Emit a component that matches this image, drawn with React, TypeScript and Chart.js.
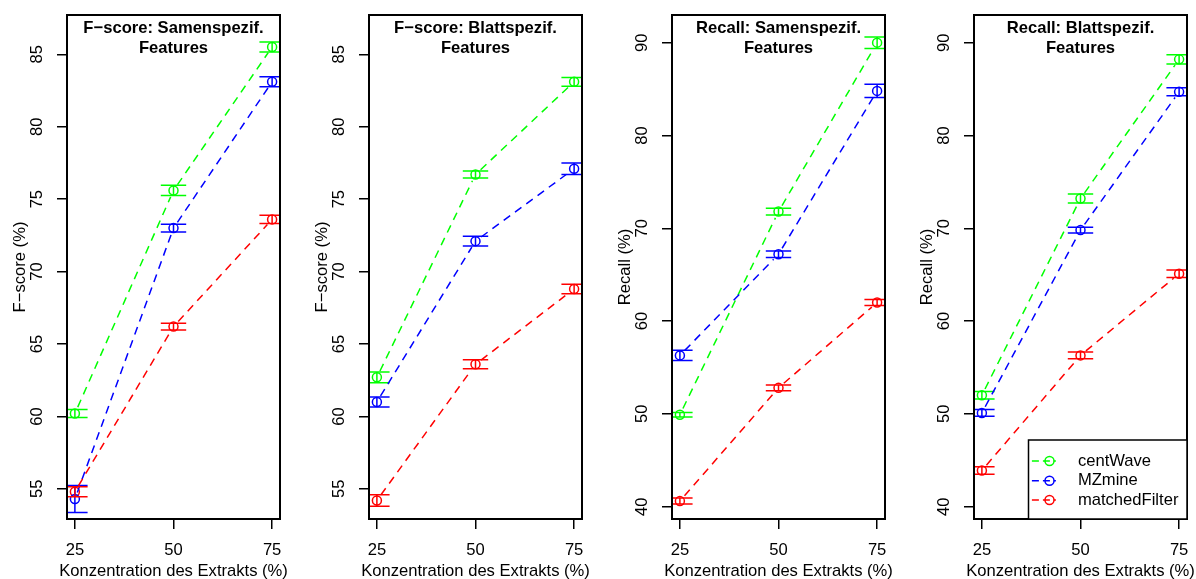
import React, { useEffect, useRef } from 'react';
import { Chart, registerables } from 'chart.js';

Chart.register(...registerables);

const FONT = "'Liberation Sans', Arial, Helvetica, sans-serif";
const FS = 16.6;

// ---- data ----
const concentrations = [25, 50, 75];
const xTicks = [25, 50, 75];
const fscoreTicks = [55, 60, 65, 70, 75, 80, 85];
const recallTicks = [40, 50, 60, 70, 80, 90];
const seriesLabels = ['centWave', 'MZmine', 'matchedFilter'];
const seriesColors = ['#00FF00', '#0000FF', '#FF0000'];

// F-score: Samenspezif. Features
const fsSamenCentWave = [60.2, 75.6, 85.5];
const fsSamenMZmine = [54.3, 73.0, 83.1];
const fsSamenMatched = [54.8, 66.2, 73.6];
const fsSamenCentWaveErr = [0.27, 0.35, 0.35];
const fsSamenMZmineErr = [0.93, 0.27, 0.35];
const fsSamenMatchedErr = [0.35, 0.23, 0.29];

// F-score: Blattspezif. Features
const fsBlattCentWave = [62.7, 76.7, 83.1];
const fsBlattMZmine = [61.0, 72.1, 77.1];
const fsBlattMatched = [54.2, 63.6, 68.8];
const fsBlattCentWaveErr = [0.37, 0.25, 0.3];
const fsBlattMZmineErr = [0.35, 0.33, 0.4];
const fsBlattMatchedErr = [0.4, 0.31, 0.33];

// Recall: Samenspezif. Features
const rcSamenCentWave = [49.9, 71.8, 90.0];
const rcSamenMZmine = [56.3, 67.2, 84.8];
const rcSamenMatched = [40.6, 52.8, 62.0];
const rcSamenCentWaveErr = [0.25, 0.36, 0.62];
const rcSamenMZmineErr = [0.56, 0.34, 0.72];
const rcSamenMatchedErr = [0.32, 0.32, 0.32];

// Recall: Blattspezif. Features
const rcBlattCentWave = [52.0, 73.2, 88.2];
const rcBlattMZmine = [50.1, 69.8, 84.7];
const rcBlattMatched = [43.9, 56.3, 65.1];
const rcBlattCentWaveErr = [0.4, 0.48, 0.5];
const rcBlattMZmineErr = [0.37, 0.32, 0.43];
const rcBlattMatchedErr = [0.4, 0.36, 0.41];

const xLabel = 'Konzentration des Extrakts (%)';

type PanelCfg = {
  title: string[];
  yTitle: string;
  yMin: number;
  yMax: number;
  yTicks: number[];
  means: number[][];
  errs: number[][];
  legend: boolean;
  left: number;
};

const panels: PanelCfg[] = [
  {
    title: ['F\u2212score: Samenspezif.', 'Features'],
    yTitle: 'F\u2212score (%)',
    yMin: 52.92, yMax: 87.71, yTicks: fscoreTicks,
    means: [fsSamenCentWave, fsSamenMZmine, fsSamenMatched],
    errs: [fsSamenCentWaveErr, fsSamenMZmineErr, fsSamenMatchedErr],
    legend: false, left: 0,
  },
  {
    title: ['F\u2212score: Blattspezif.', 'Features'],
    yTitle: 'F\u2212score (%)',
    yMin: 52.92, yMax: 87.71, yTicks: fscoreTicks,
    means: [fsBlattCentWave, fsBlattMZmine, fsBlattMatched],
    errs: [fsBlattCentWaveErr, fsBlattMZmineErr, fsBlattMatchedErr],
    legend: false, left: 302,
  },
  {
    title: ['Recall: Samenspezif.', 'Features'],
    yTitle: 'Recall (%)',
    yMin: 38.67, yMax: 92.98, yTicks: recallTicks,
    means: [rcSamenCentWave, rcSamenMZmine, rcSamenMatched],
    errs: [rcSamenCentWaveErr, rcSamenMZmineErr, rcSamenMatchedErr],
    legend: false, left: 605,
  },
  {
    title: ['Recall: Blattspezif.', 'Features'],
    yTitle: 'Recall (%)',
    yMin: 38.67, yMax: 92.98, yTicks: recallTicks,
    means: [rcBlattCentWave, rcBlattMZmine, rcBlattMatched],
    errs: [rcBlattCentWaveErr, rcBlattMZmineErr, rcBlattMatchedErr],
    legend: true, left: 907,
  },
];

const CANVAS_W = 289;
const CANVAS_H = 579;
const CAP = 12.7;
const LINE_GAP = 7;
const DASH = [8, 6];
const LW = 1.5;

function makePlugin(cfg: PanelCfg) {
  return {
    id: 'rstyle',
    afterDatasetsDraw(chart: any) {
      const { ctx, chartArea: a, scales } = chart;
      const x = scales.x;
      const y = scales.y;
      ctx.save();
      ctx.beginPath();
      ctx.rect(a.left, a.top, a.right - a.left, a.bottom - a.top);
      ctx.clip();
      chart.data.datasets.forEach((ds: any, si: number) => {
        const meta = chart.getDatasetMeta(si);
        const pts = meta.data;
        ctx.strokeStyle = ds.borderColor;
        ctx.lineWidth = LW;
        ctx.setLineDash(DASH);
        for (let i = 0; i < pts.length - 1; i++) {
          const p0 = pts[i];
          const p1 = pts[i + 1];
          const dx = p1.x - p0.x;
          const dy = p1.y - p0.y;
          const len = Math.hypot(dx, dy);
          if (len <= 2 * LINE_GAP) continue;
          const ux = dx / len;
          const uy = dy / len;
          ctx.beginPath();
          ctx.moveTo(p0.x + ux * LINE_GAP, p0.y + uy * LINE_GAP);
          ctx.lineTo(p1.x - ux * LINE_GAP, p1.y - uy * LINE_GAP);
          ctx.stroke();
        }
        ctx.setLineDash([]);
        const errs = cfg.errs[si];
        ds.data.forEach((d: any, i: number) => {
          const px = x.getPixelForValue(d.x);
          const yt = y.getPixelForValue(d.y + errs[i]);
          const yb = y.getPixelForValue(d.y - errs[i]);
          ctx.beginPath();
          ctx.moveTo(px, yt);
          ctx.lineTo(px, yb);
          ctx.moveTo(px - CAP, yt);
          ctx.lineTo(px + CAP, yt);
          ctx.moveTo(px - CAP, yb);
          ctx.lineTo(px + CAP, yb);
          ctx.stroke();
        });
      });
      ctx.restore();
    },
    afterDraw(chart: any) {
      const { ctx, chartArea: a } = chart;
      ctx.save();
      // box
      ctx.strokeStyle = '#000';
      ctx.lineWidth = 2;
      ctx.strokeRect(a.left, a.top, a.right - a.left, a.bottom - a.top);
      // title inside plot
      const cx = (a.left + a.right) / 2;
      ctx.fillStyle = '#000';
      ctx.font = `bold ${FS}px ${FONT}`;
      ctx.textAlign = 'center';
      ctx.textBaseline = 'alphabetic';
      ctx.fillText(cfg.title[0], cx, a.top + 18.4);
      ctx.fillText(cfg.title[1], cx, a.top + 37.8);
      // x-axis title
      ctx.font = `${FS}px ${FONT}`;
      ctx.fillText(xLabel, cx, 576);
      // legend
      if (cfg.legend) {
        const lw = 158.5;
        const lh = 79;
        const lx = a.right - lw;
        const ly = a.bottom - lh;
        ctx.fillStyle = '#fff';
        ctx.fillRect(lx, ly, lw, lh);
        ctx.strokeStyle = '#000';
        ctx.lineWidth = LW;
        ctx.strokeRect(lx, ly, lw, lh);
        const rows = [21, 40.7, 60];
        chart.data.datasets.forEach((ds: any, si: number) => {
          const ry = ly + rows[si];
          ctx.strokeStyle = ds.borderColor;
          ctx.lineWidth = LW;
          ctx.setLineDash([7, 4]);
          ctx.beginPath();
          ctx.moveTo(lx + 3.4, ry);
          ctx.lineTo(lx + 27.4, ry);
          ctx.stroke();
          ctx.setLineDash([]);
          ctx.beginPath();
          ctx.arc(lx + 21, ry, 4.5, 0, Math.PI * 2);
          ctx.stroke();
          ctx.fillStyle = '#000';
          ctx.font = `${FS}px ${FONT}`;
          ctx.textAlign = 'left';
          ctx.textBaseline = 'middle';
          ctx.fillText(ds.label, lx + 49.4, ry);
        });
      }
      ctx.restore();
    },
  };
}

function Panel({ cfg }: { cfg: PanelCfg }) {
  const ref = useRef<HTMLCanvasElement | null>(null);
  useEffect(() => {
    if (!ref.current) return;
    const tickFont = { family: FONT, size: FS };
    const chart = new Chart(ref.current, {
      type: 'line',
      data: {
        datasets: cfg.means.map((m, si) => ({
          label: seriesLabels[si],
          data: concentrations.map((c, i) => ({ x: c, y: m[i] })),
          borderColor: seriesColors[si],
          backgroundColor: 'rgba(0,0,0,0)',
          pointBackgroundColor: 'rgba(0,0,0,0)',
          pointBorderColor: seriesColors[si],
          showLine: false,
          pointStyle: 'circle',
          pointRadius: 4.5,
          pointHoverRadius: 4.5,
          pointBorderWidth: LW,
        })),
      },
      options: {
        animation: false,
        responsive: false,
        events: [],
        layout: { padding: { left: 0, right: 9, top: 15, bottom: 0 } },
        plugins: {
          legend: { display: false },
          title: { display: false },
          tooltip: { enabled: false },
        },
        scales: {
          x: {
            type: 'linear',
            min: 23,
            max: 77,
            afterBuildTicks: (s: any) => {
              s.ticks = xTicks.map((v) => ({ value: v }));
            },
            afterFit: (s: any) => {
              s.height = 60;
              s.paddingLeft = 0;
              s.paddingRight = 0;
            },
            grid: {
              drawOnChartArea: false,
              drawTicks: true,
              tickLength: 10,
              color: '#000',
              lineWidth: LW,
            },
            border: { display: false },
            ticks: {
              color: '#000',
              font: tickFont,
              padding: 11.5,
              maxRotation: 0,
              minRotation: 0,
              autoSkip: false,
            },
          },
          y: {
            type: 'linear',
            min: cfg.yMin,
            max: cfg.yMax,
            afterBuildTicks: (s: any) => {
              s.ticks = cfg.yTicks.map((v) => ({ value: v }));
            },
            afterFit: (s: any) => {
              s.width = 67;
              s.paddingTop = 0;
              s.paddingBottom = 0;
            },
            grid: {
              drawOnChartArea: false,
              drawTicks: true,
              tickLength: 10,
              color: '#000',
              lineWidth: LW,
            },
            border: { display: false },
            ticks: {
              color: '#000',
              font: tickFont,
              padding: 10.3,
              minRotation: 90,
              maxRotation: 90,
              crossAlign: 'center',
              autoSkip: false,
            },
            title: {
              display: true,
              text: cfg.yTitle,
              color: '#000',
              font: { family: FONT, size: FS },
              padding: { top: 10, bottom: 0 },
            },
          },
        },
      } as any,
      plugins: [makePlugin(cfg)],
    });
    return () => chart.destroy();
  }, [cfg]);
  return (
    <canvas
      ref={ref}
      width={CANVAS_W}
      height={CANVAS_H}
      style={{ position: 'absolute', left: cfg.left, top: 0, width: CANVAS_W, height: CANVAS_H }}
    />
  );
}

export default function App() {
  useEffect(() => {
    document.body.style.margin = '0';
    document.body.style.background = '#fff';
  }, []);
  return (
    <div style={{ position: 'relative', width: 1196, height: 579, overflow: 'hidden', background: '#fff' }}>
      {panels.map((p, i) => (
        <Panel key={i} cfg={p} />
      ))}
    </div>
  );
}
